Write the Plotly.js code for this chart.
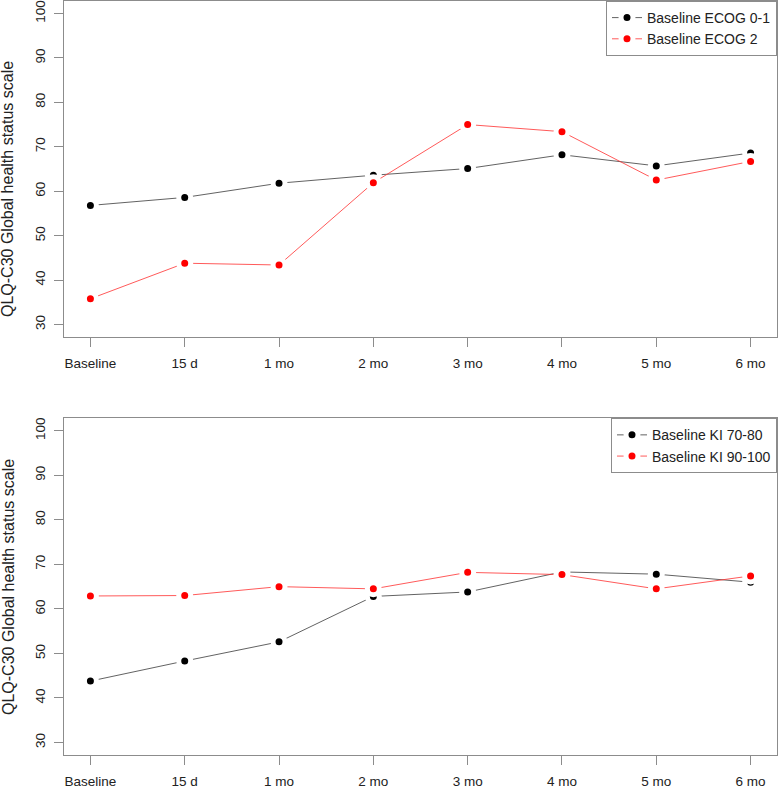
<!DOCTYPE html>
<html>
<head>
<meta charset="utf-8">
<script src="https://cdn.plot.ly/plotly-3.0.1.min.js"></script>
<style>html,body{margin:0;padding:0;background:#fff;}#chart{width:778px;height:788px;}</style>
</head>
<body>
<div id="chart"></div>
<script>
const timepoints = ["Baseline", "15 d", "1 mo", "2 mo", "3 mo", "4 mo", "5 mo", "6 mo"];
const ecog01 = [56.8, 58.6, 61.8, 63.6, 65.1, 68.2, 65.7, 68.6];
const ecog2  = [35.8, 43.8, 43.4, 61.9, 75.0, 73.4, 62.5, 66.7];
const ki7080  = [43.8, 48.3, 52.6, 62.8, 63.8, 68.3, 67.8, 66.0];
const ki90100 = [62.9, 63.0, 65.0, 64.5, 68.2, 67.7, 64.5, 67.4];
const yTicks = [30, 40, 50, 60, 70, 80, 90, 100];
const yTitle = "QLQ-C30 Global health status scale";

const FONT = "Liberation Sans, Arial, Helvetica, sans-serif";
const BOXC = "#8c8c8c";

function series(y, name, color, lineColor, xa, ya, leg) {
  return {
    x: timepoints, y: y, name: name, type: "scatter", mode: "lines+markers",
    xaxis: xa, yaxis: ya, legend: leg,
    line: {color: lineColor, width: 0.8},
    marker: {color: color, size: 12, line: {color: "#ffffff", width: 5}}
  };
}

const data = [
  series(ecog01, "Baseline ECOG 0-1", "#000000", "#3a3a3a", "x", "y", "legend"),
  series(ecog2, "Baseline ECOG 2", "#ff0000", "#ff3030", "x", "y", "legend"),
  series(ki7080, "Baseline KI 70-80", "#000000", "#3a3a3a", "x2", "y2", "legend2"),
  series(ki90100, "Baseline KI 90-100", "#ff0000", "#ff3030", "x2", "y2", "legend2")
];

const topDomain = [0.5544, 1];
const botDomain = [0, 0.4466];

function xaxis(anchor) {
  return {
    anchor: anchor, type: "category", range: [-0.28, 7.28],
    showgrid: false, zeroline: false,
    showline: true, mirror: true, linecolor: BOXC, linewidth: 1,
    ticks: "outside", ticklen: 9, tickcolor: BOXC, tickwidth: 1,
    ticklabelstandoff: 5,
    tickfont: {family: FONT, size: 13.5, color: "#222"},
    fixedrange: true
  };
}
function yaxis(anchor, domain) {
  return {
    anchor: anchor, domain: domain, range: [27.2, 102.8],
    tickvals: yTicks, ticktext: yTicks.map(String),
    showgrid: false, zeroline: false,
    showline: true, mirror: true, linecolor: BOXC, linewidth: 1,
    ticks: "outside", ticklen: 9, tickcolor: BOXC, tickwidth: 1,
    tickangle: -90, ticklabelstandoff: 4, ticklabeloverflow: "allow",
    tickfont: {family: FONT, size: 13.5, color: "#222"},
    fixedrange: true
  };
}

const legendBase = {
  x: 1, xanchor: "right", yanchor: "top",
  bgcolor: "#ffffff", bordercolor: BOXC, borderwidth: 1,
  font: {family: FONT, size: 14, color: "#222"},
  tracegroupgap: 0
};

const layout = {
  width: 778, height: 788,
  margin: {l: 64, r: 1, t: 1, b: 33},
  paper_bgcolor: "#ffffff", plot_bgcolor: "#ffffff",
  font: {family: FONT, size: 14, color: "#222"},
  xaxis: xaxis("y"),
  yaxis: yaxis("x", topDomain),
  xaxis2: xaxis("y2"),
  yaxis2: yaxis("x2", botDomain),
  legend: Object.assign({}, legendBase, {y: 1}),
  legend2: Object.assign({}, legendBase, {y: 0.4466}),
  annotations: [
    {text: yTitle, xref: "paper", yref: "paper", x: -0.0785, y: 0.7507,
     xanchor: "center", yanchor: "middle", textangle: -90, showarrow: false,
     font: {family: FONT, size: 16, color: "#222"}},
    {text: yTitle, xref: "paper", yref: "paper", x: -0.0785, y: 0.2228,
     xanchor: "center", yanchor: "middle", textangle: -90, showarrow: false,
     font: {family: FONT, size: 16, color: "#222"}}
  ],
  showlegend: true
};

Plotly.newPlot("chart", data, layout, {displayModeBar: false, staticPlot: true});
</script>
</body>
</html>
